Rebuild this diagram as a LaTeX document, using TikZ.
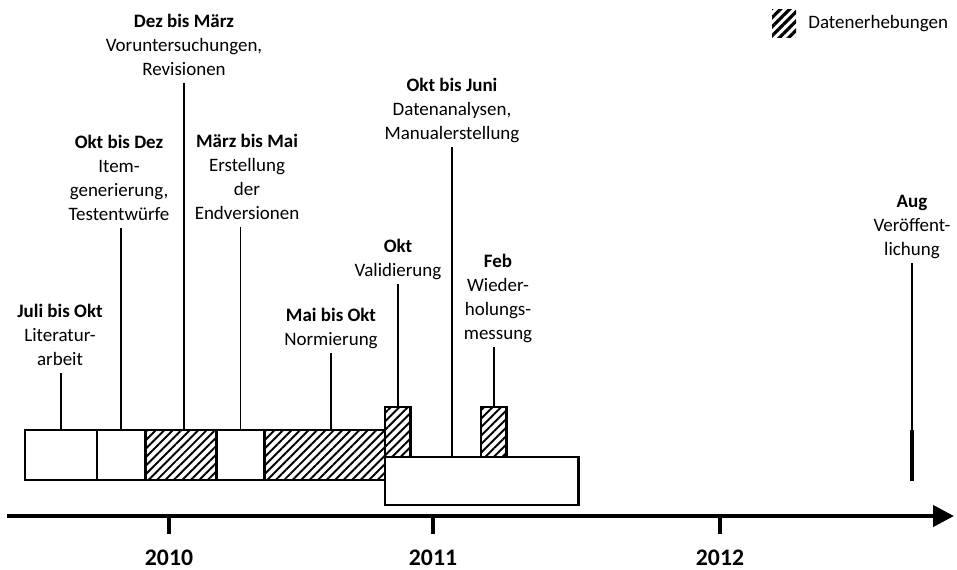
\documentclass[tikz,border=0pt]{standalone}
\usepackage{fontspec}
\setmainfont{Carlito}
\usepackage{tikz}
\usetikzlibrary{positioning,patterns.meta,arrows.meta}

\newcommand{\stage}[2]{\begin{tabular}[b]{@{}c@{}}\textbf{#1}\\#2\end{tabular}}

\begin{document}
\begin{tikzpicture}[x=0.02cm, y=-0.02cm,
        boxbase/.style={rectangle, draw=black, line width=1.6pt, inner sep=0pt, outer sep=0pt, minimum height=1cm},
        phase/.style={boxbase, fill=white},
        survey/.style={boxbase, pattern={Lines[angle=45, distance=0.12cm, line width=1.1pt]}},
        legendhatch/.style={rectangle, inner sep=0pt, outer sep=0pt, minimum width=0.48cm, minimum height=0.58cm, pattern={Lines[angle=45, distance=0.13cm, line width=1.8pt]}},
        stagelbl/.style={inner sep=0pt, anchor=south, font=\fontsize{10.8}{13.6}\selectfont},
        conn/.style={line width=0.9pt},
        pubbar/.style={line width=2.4pt},
        timeaxis/.style={line width=2.5pt, -{Triangle[length=0.42cm, width=0.42cm]}},
        yeartick/.style={line width=2.4pt},
        yearlbl/.style={inner sep=0pt, font=\fontsize{13.5}{16}\selectfont\bfseries}]

        \useasboundingbox (0,0) rectangle (957,569);

        \node[phase, minimum width=1.44cm, anchor=north west] (b1) at (25,430) {};
        \node[phase, minimum width=0.97cm, right=0pt of b1] (b2) {};
        \node[survey, minimum width=1.42cm, right=0pt of b2] (b3) {};
        \node[phase, minimum width=0.96cm, right=0pt of b3] (b4) {};
        \node[survey, minimum width=2.41cm, right=0pt of b4] (b5) {};
        \node[phase, minimum width=3.87cm, minimum height=0.96cm, anchor=north west] (big) at (385,457) {};
        \node[survey, minimum width=0.51cm, anchor=south west] (s1) at (big.north west) {};
        \node[survey, minimum width=0.51cm, anchor=south west] (s2) at (481,457) {};

        \node[stagelbl] (juli) at (60,373) {\stage{Juli bis Okt}{Literatur-\\arbeit}};
        \node[stagelbl] (itemgen) at (119,228) {\stage{Okt bis Dez}{Item-\\generierung,\\Testentwürfe}};
        \node[stagelbl] (vorunt) at (184,83) {\stage{Dez bis März}{Voruntersuchungen,\\Revisionen}};
        \node[stagelbl] (endvers) at (247,227) {\stage{März bis Mai}{Erstellung\\der\\Endversionen}};
        \node[stagelbl] (norm) at (331,353) {\stage{Mai bis Okt}{Normierung}};
        \node[stagelbl] (valid) at (398,284) {\stage{Okt}{Validierung}};
        \node[stagelbl] (analyse) at (452,147) {\stage{Okt bis Juni}{Datenanalysen,\\Manualerstellung}};
        \node[stagelbl] (retest) at (498,347) {\stage{Feb}{Wieder-\\holungs-\\messung}};
        \node[stagelbl] (publ) at (912,263) {\stage{Aug}{Veröffent-\\lichung}};

        \draw[conn] (b1.north |- juli.south) -- (b1.north);
        \draw[conn] (b2.north |- itemgen.south) -- (b2.north);
        \draw[conn] (vorunt.south) -- (vorunt.south |- b3.north);
        \draw[conn] (b4.north |- endvers.south) -- (b4.north);
        \draw[conn] (norm.south) -- (norm.south |- b5.north);
        \draw[conn] (s1.north |- valid.south) -- (s1.north);
        \draw[conn] (analyse.south) -- (analyse.south |- big.north);
        \draw[conn] (s2.north |- retest.south) -- (s2.north);

        \coordinate (pubtop) at (912,430);
        \coordinate (pubbot) at (912,481);
        \draw[conn] (publ.south) -- (pubtop);
        \draw[pubbar] (pubtop) -- (pubbot);

        \coordinate (axstart) at (7,516);
        \coordinate (axend) at (954,516);
        \draw[timeaxis] (axstart) -- (axend);
        \foreach \yr/\xx in {2010/169, 2011/433, 2012/720}
                \draw[yeartick] (\xx,516) -- (\xx,534) node[yearlbl, below=0.28cm] (y\yr) {\yr};

        \node[legendhatch, anchor=north west] (legbox) at (772,9) {};
        \node[inner sep=0pt, font=\fontsize{10.8}{13.6}\selectfont, right=0.24cm of legbox] (legtxt) {Datenerhebungen};

\end{tikzpicture}
\end{document}
